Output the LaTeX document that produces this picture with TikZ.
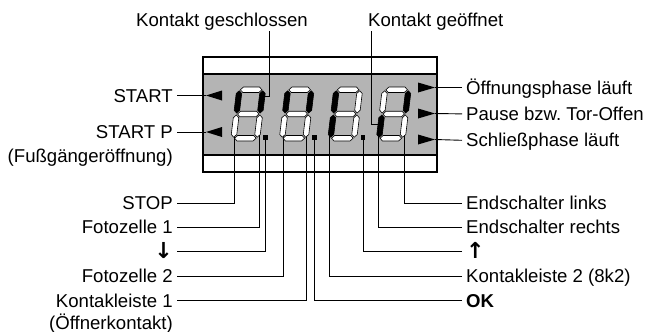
\documentclass[tikz,border=0pt]{standalone}
\usepackage{fontspec}
\setmainfont{Liberation Sans}
\newfontfamily\arrowfont{DejaVu Sans}
\usetikzlibrary{positioning,calc}
\definecolor{panelGray}{HTML}{B4B4B4}
\frenchspacing

% one slanted seven-segment digit: x of lower left, then UL, UR, LL, LR style
\newcommand{\vseg}[4]{\filldraw[#1] (#2,#3) -- (#2+2.75,#3+2.75) -- (#2+2.75,#4-2.75) -- (#2,#4) -- (#2-2.75,#4-2.75) -- (#2-2.75,#3+2.75) -- cycle;}
\newcommand{\hseg}[4]{\filldraw[#1] (#3,#2) -- (#3+2.75,#2-2.75) -- (#4-2.75,#2-2.75) -- (#4,#2) -- (#4-2.75,#2+2.75) -- (#3+2.75,#2+2.75) -- cycle;}
\newcommand{\segdigit}[5]{%
  \begin{scope}[shift={(#1,141)},xslant=0.12]
    \hseg{segoff}{-51.25}{3.75}{25.25}
    \hseg{segoff}{-27}{3.75}{25.25}
    \hseg{segoff}{-2.75}{3.75}{25.25}
    \vseg{#2}{2.75}{-50.25}{-28}
    \vseg{#3}{26.25}{-50.25}{-28}
    \vseg{#4}{2.75}{-26}{-3.75}
    \vseg{#5}{26.25}{-26}{-3.75}
  \end{scope}}

\begin{document}
\begin{tikzpicture}[x=1pt,y=-1pt,
  node distance=3pt,
  lbl/.style={font=\fontsize{18.6}{22}\selectfont,inner xsep=4pt,inner ysep=4pt,text height=13pt,text depth=0pt},
  lft/.style={lbl,anchor=east},
  rgt/.style={lbl,anchor=west},
  lead/.style={line width=0.9pt},
  segon/.style={fill=black,draw=black,line width=0.6pt},
  segoff/.style={fill=white,draw=black,line width=0.6pt}]
  \useasboundingbox (0,0) rectangle (648,332);
  % display window
  \fill[panelGray] (203,74) rectangle (437,155);
  \draw[line width=1.2pt] (203,74) -- (437,74) (203,155) -- (437,155);

  % labels
  \node[lbl,anchor=base west] (closed) at (132,27) {Kontakt geschlossen};
  \node[lbl,anchor=base west] (opened) at (364,27) {Kontakt geöffnet};
  \node[lft] (start) at (177,95.5) {START};
  \node[lft] (startp) at (177,132) {START P};
  \node[lft,below=2.5pt of startp.south east,anchor=north east] (ped) {(Fußgängeröffnung)};
  \node[rgt] (opening) at (462,87.5) {Öffnungsphase läuft};
  \node[rgt,below=5pt of opening.south west,anchor=north west] (pause) {Pause bzw. Tor-Offen};
  \node[rgt,below=5pt of pause.south west,anchor=north west] (closing) {Schließphase läuft};
  \node[lft] (stop) at (177,203) {STOP};
  \node[lft,below=of stop.south east,anchor=north east] (photo1) {Fotozelle 1};
  \node[lft,below=of photo1.south east,anchor=north east] (down) {\fontsize{22}{22}\selectfont\arrowfont\bfseries ↓};
  \node[lft,below=of down.south east,anchor=north east] (photo2) {Fotozelle 2};
  \node[lft,below=of photo2.south east,anchor=north east] (edge1) {Kontakleiste 1};
  \node[lft,below=1pt of edge1.south east,anchor=north east] (nc) {(Öffnerkontakt)};
  \node[rgt] (limL) at (462,203) {Endschalter links};
  \node[rgt,below=of limL.south west,anchor=north west] (limR) {Endschalter rechts};
  \node[rgt,below=of limR.south west,anchor=north west] (up) {\fontsize{22}{22}\selectfont\arrowfont\bfseries ↑};
  \node[rgt,below=of up.south west,anchor=north west] (edge2) {Kontakleiste 2 (8k2)};
  \node[rgt,below=of edge2.south west,anchor=north west] (ok) {\textbf{OK}};

  % points on the display
  \coordinate (closedBend) at (269,96);
  \coordinate (closedPt) at (262,96);
  \coordinate (openBend) at (371,124);
  \coordinate (openPt) at (380,124);
  \coordinate (startTip) at (206,95.5);
  \coordinate (startpTip) at (206,132);
  \coordinate (openingTip) at (435,87.5);
  \coordinate (pauseTip) at (435,113.5);
  \coordinate (closingTip) at (435,139.5);
  \coordinate (d1ll) at (234.5,133);
  \coordinate (d1lr) at (259,133);
  \coordinate (dot1) at (265.5,137.5);
  \coordinate (d2ll) at (283,133);
  \coordinate (d2lr) at (306,133);
  \coordinate (dot2) at (314.5,137.5);
  \coordinate (d3ll) at (329,133);
  \coordinate (dot3) at (363,137.5);
  \coordinate (d4ll) at (378,133);
  \coordinate (d4lr) at (404,133);

  % leader lines
  \draw[lead] (closed.south -| closedBend) -- (closedBend) -- (closedPt);
  \draw[lead] (opened.south -| openBend) -- (openBend) -- (openPt);
  \draw[lead] (start.east) -- (startTip);
  \draw[lead] (startp.east) -- (startpTip);
  \draw[lead] (opening.west) -- (openingTip);
  \draw[lead] (pause.west) -- (pauseTip);
  \draw[lead] (closing.west) -- (closingTip);
  \draw[lead] (stop.east) -| (d1ll);
  \draw[lead] (photo1.east) -| (d1lr);
  \draw[lead] (down.east) -| (dot1);
  \draw[lead] (photo2.east) -| (d2ll);
  \draw[lead] (edge1.east) -| (d2lr);
  \draw[lead] (ok.west) -| (dot2);
  \draw[lead] (edge2.west) -| (d3ll);
  \draw[lead] (up.west) -| (dot3);
  \draw[lead] (limR.west) -| (d4ll);
  \draw[lead] (limL.west) -| (d4lr);

  % digits
  \segdigit{230.5}{segon}{segon}{segoff}{segoff}
  \segdigit{279}{segon}{segon}{segoff}{segoff}
  \segdigit{327.5}{segon}{segoff}{segon}{segoff}
  \segdigit{376}{segoff}{segon}{segon}{segoff}
  \fill (dot1) ++(-2.25,-2.25) rectangle ++(4.5,4.5);
  \fill (dot2) ++(-2.25,-2.25) rectangle ++(4.5,4.5);
  \fill (dot3) ++(-2.25,-2.25) rectangle ++(4.5,4.5);

  % status arrows
  \fill (startTip) -- ++(16,-5) -- ++(0,10) -- cycle;
  \fill (startpTip) -- ++(16,-5) -- ++(0,10) -- cycle;
  \fill (openingTip) -- ++(-17,-5) -- ++(0,10) -- cycle;
  \fill (pauseTip) -- ++(-17,-5) -- ++(0,10) -- cycle;
  \fill (closingTip) -- ++(-17,-5) -- ++(0,10) -- cycle;

  \draw[line width=2pt] (203,57) rectangle (437,172);
\end{tikzpicture}
\end{document}
